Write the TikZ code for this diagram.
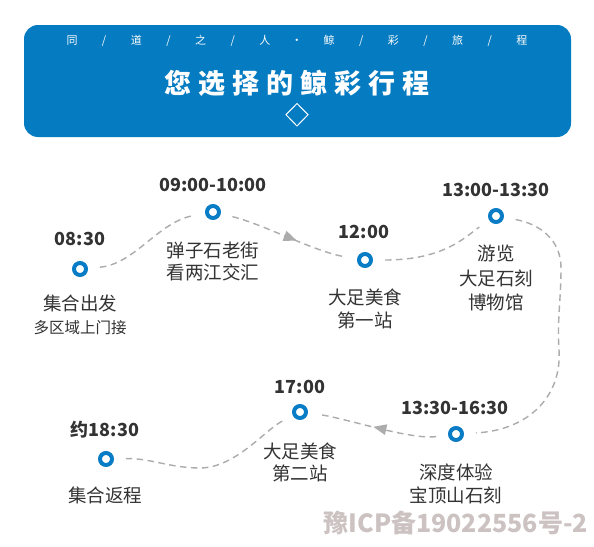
\documentclass[tikz,border=0pt]{standalone}
\usepackage{fontspec}
\setmainfont{Noto Sans CJK SC}
\usetikzlibrary{arrows.meta,decorations.markings}
\definecolor{bannerblue}{RGB}{5,123,193}
\definecolor{dotblue}{RGB}{8,124,196}
\definecolor{linegray}{RGB}{172,172,172}
\definecolor{txt}{RGB}{51,51,51}
\definecolor{wm}{RGB}{204,194,194}
\newcommand{\subbx}[1]{\makebox[32.14pt]{#1}}
\newcommand{\titbx}[1]{\makebox[34pt]{#1}}
\begin{document}
\begin{tikzpicture}[x=1pt,y=-1pt,
  dot/.style={circle,draw=dotblue,fill=white,line width=4pt,minimum size=12pt,inner sep=0pt},
  tm/.style={anchor=base,text=txt,font=\fontsize{18}{20}\selectfont\bfseries,inner sep=0pt},
  ds/.style={anchor=base,text=txt,font=\fontsize{18.5}{22}\selectfont,inner sep=0pt},
  sm/.style={anchor=base,text=txt,font=\fontsize{15.5}{18}\selectfont,inner sep=0pt},
  conn/.style={draw=linegray,line width=1.4pt,dash pattern=on 6.5pt off 4.5pt,shorten <=12pt,shorten >=12pt},
  arr/.style={postaction={decorate},decoration={markings,mark=at position #1 with {\arrow{Triangle[length=13pt,width=10.5pt]}}}}
]
\useasboundingbox[fill=white] (0,0) rectangle (594,546);
% banner
\fill[bannerblue, rounded corners=14pt] (24,25) rectangle (571,137);
\node[anchor=base,text=white,inner sep=0pt,font=\fontsize{11}{13}\selectfont] (sub) at (297,44)
  {\subbx{同}\subbx{/}\subbx{道}\subbx{/}\subbx{之}\subbx{/}\subbx{人}\subbx{·}\subbx{鲸}\subbx{/}\subbx{彩}\subbx{/}\subbx{旅}\subbx{/}\subbx{程}};
\node[anchor=base,text=white,inner sep=0pt,font=\fontsize{27}{30}\selectfont\bfseries] (title) at (297,93.3)
  {\titbx{您}\titbx{选}\titbx{择}\titbx{的}\titbx{鲸}\titbx{彩}\titbx{行}\titbx{程}};
\draw[white,line width=1pt] (297,103.5) -- (308,114.7) -- (297,126) -- (286,114.7) -- cycle;
% stops
\node[dot] (A) at (80,269) {};
\node[dot] (B) at (213,212) {};
\node[dot] (C) at (365,260) {};
\node[dot] (D) at (496,216) {};
\node[dot] (E) at (456,434) {};
\node[dot] (F) at (300,412) {};
\node[dot] (G) at (106,459) {};
% connectors
\draw[conn] (A) .. controls (135,264) and (158,222) .. (B);
\draw[conn,arr=0.56] (B) .. controls (263,224) and (315,252) .. (C);
\draw[conn] (C) .. controls (445,260) and (466,236) .. (D);
\draw[conn] (D) .. controls (540,224) and (561,240) .. (561,268)
  .. controls (561,300) and (557,320) .. (559,350)
  .. controls (562,395) and (530,430) .. (E);
\draw[conn,arr=0.53] (E) .. controls (410,440) and (345,418) .. (F);
\draw[conn] (F) .. controls (265,430) and (235,468) .. (200,468)
  .. controls (170,468) and (150,458) .. (G);
% labels
\node[tm] (At) at (80,245.5) {08:30};
\node[ds] (Ad1) at (80,310) {集合出发};
\node[sm] (Ad2) at (80,333) {多区域上门接};
\node[tm] (Bt) at (213,191.5) {09:00-10:00};
\node[ds] (Bd1) at (213,257) {弹子石老街};
\node[ds] (Bd2) at (213,279) {看两江交汇};
\node[tm] (Ct) at (364,238.5) {12:00};
\node[ds] (Cd1) at (365,304) {大足美食};
\node[ds] (Cd2) at (365,327) {第一站};
\node[tm] (Dt) at (496,196.5) {13:00-13:30};
\node[ds] (Dd1) at (496,260) {游览};
\node[ds] (Dd2) at (496,285) {大足石刻};
\node[ds] (Dd3) at (496,309) {博物馆};
\node[tm] (Et) at (455,414.5) {13:30-16:30};
\node[ds] (Ed1) at (456,479) {深度体验};
\node[ds] (Ed2) at (456,502) {宝顶山石刻};
\node[tm] (Ft) at (300,393.5) {17:00};
\node[ds] (Fd1) at (300,458) {大足美食};
\node[ds] (Fd2) at (300,480) {第二站};
\node[tm] (Gt) at (105,436.5) {约18:30};
\node[ds] (Gd1) at (105,502) {集合返程};
% watermark
\node[anchor=base east,text=wm,inner sep=0pt,font=\fontsize{25}{28}\selectfont\bfseries] (wmark) at (588,532) {豫ICP备19022556号-2};
\end{tikzpicture}
\end{document}
